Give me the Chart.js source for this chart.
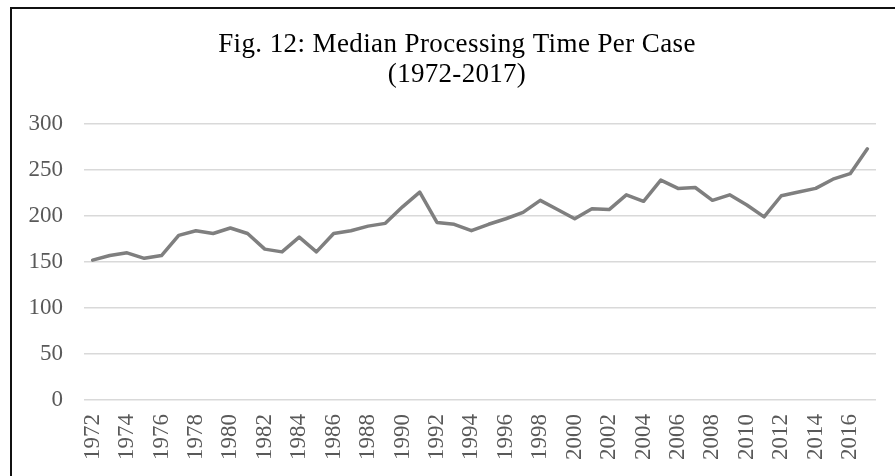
<!DOCTYPE html>
<html>
<head>
<meta charset="utf-8">
<script src="https://cdn.jsdelivr.net/npm/chart.js@4"></script>
<style>
    body { margin: 0; background: #fff; }
    #frame {
        position: absolute;
        left: 10px;
        top: 7px;
        width: 883px;
        height: 469px;
        border-left: 2px solid #111;
        border-top: 2px solid #111;
    }
    #chart { display: block; }
</style>
</head>
<body>
<div id="frame"><canvas id="chart" width="883" height="467"></canvas></div>
<script>
// Chart data
const years = ['1972', '1973', '1974', '1975', '1976', '1977', '1978', '1979', '1980', '1981',
    '1982', '1983', '1984', '1985', '1986', '1987', '1988', '1989', '1990', '1991',
    '1992', '1993', '1994', '1995', '1996', '1997', '1998', '1999', '2000', '2001',
    '2002', '2003', '2004', '2005', '2006', '2007', '2008', '2009', '2010', '2011',
    '2012', '2013', '2014', '2015', '2016', '2017'];

const medianDays = [152, 157, 160, 154, 157, 179, 184, 181, 187, 181,
    164, 161, 177, 161, 181, 184, 189, 192, 210, 226,
    193, 191, 184, 191, 197, 204, 217, 207, 197, 208,
    207, 223, 216, 239, 230, 231, 217, 223, 212, 199,
    222, 226, 230, 240, 246, 273];

const titleLines = ['Fig. 12: Median Processing Time Per Case', '(1972-2017)'];

const serif = "'Liberation Serif', 'Times New Roman', serif";

// Title is drawn by a small plugin so it can sit off-centre like the original
const titlePlugin = {
    id: 'figTitle',
    afterDraw(chart) {
        const ctx = chart.ctx;
        ctx.save();
        ctx.fillStyle = '#000';
        ctx.font = '27px ' + serif;
        ctx.textAlign = 'center';
        ctx.textBaseline = 'alphabetic';
        ctx.letterSpacing = '0.4px';
        ctx.fillText(titleLines[0], 445, 43);
        ctx.letterSpacing = '0.3px';
        ctx.fillText(titleLines[1], 445, 73);
        ctx.restore();
    }
};

// Build the chart
function createChart() {
    const ctx = document.getElementById('chart').getContext('2d');
    return new Chart(ctx, {
        type: 'line',
        data: {
            labels: years,
            datasets: [{
                label: 'Median Processing Time',
                data: medianDays,
                borderColor: '#7f7f7f',
                borderWidth: 3.5,
                borderJoinStyle: 'round',
                borderCapStyle: 'round',
                pointRadius: 0,
                tension: 0,
                fill: false
            }]
        },
        options: {
            responsive: false,
            animation: false,
            devicePixelRatio: 1,
            layout: {
                padding: { left: 0, right: 19, top: 115, bottom: 0 }
            },
            plugins: {
                legend: { display: false },
                tooltip: { enabled: false },
                title: { display: false }
            },
            scales: {
                x: {
                    offset: true,
                    grid: { display: false },
                    border: { display: false },
                    ticks: {
                        autoSkip: false,
                        minRotation: 90,
                        maxRotation: 90,
                        padding: 6,
                        color: '#595959',
                        font: { family: serif, size: 23 },
                        callback: function(value, index) {
                            return index % 2 === 0 ? years[index] : '';
                        }
                    },
                    afterFit: function(scale) {
                        scale.height = 76;
                        scale.paddingLeft = 0;
                        scale.paddingRight = 0;
                    }
                },
                y: {
                    min: 0,
                    max: 300,
                    grid: { color: '#d9d9d9', lineWidth: 1.5, drawTicks: false },
                    border: { display: false },
                    ticks: {
                        stepSize: 50,
                        padding: 21,
                        color: '#595959',
                        font: { family: serif, size: 23 }
                    },
                    afterFit: function(scale) { scale.width = 72; }
                }
            }
        },
        plugins: [titlePlugin]
    });
}

document.addEventListener('DOMContentLoaded', createChart);
</script>
</body>
</html>
